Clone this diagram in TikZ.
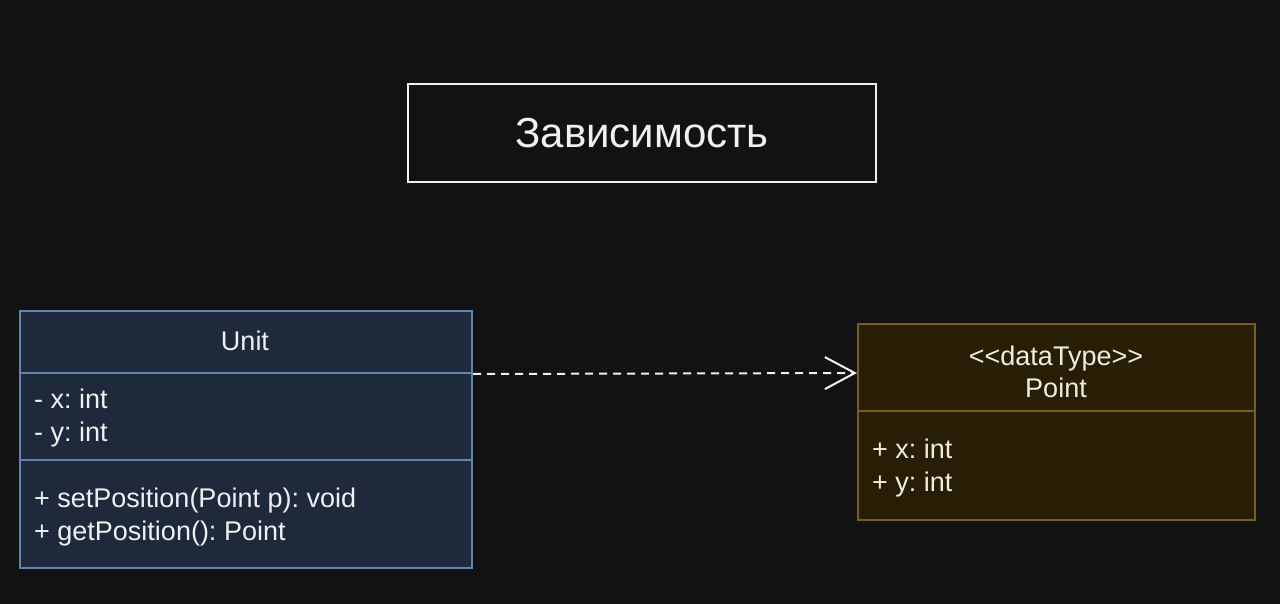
\documentclass[tikz,border=0pt]{standalone}
\usepackage{fontspec}
\setmainfont{Liberation Sans}
\usetikzlibrary{arrows.meta}
\frenchspacing
\definecolor{bg}{HTML}{121212}
\definecolor{unitfill}{HTML}{1E293B}
\definecolor{unitline}{HTML}{6483B2}
\definecolor{ptfill}{HTML}{281E05}
\definecolor{ptline}{HTML}{7A6012}
\definecolor{txt}{HTML}{F0F0F0}
\definecolor{pttxt}{HTML}{F0ECE0}
\tikzset{
  box/.style={draw, line width=2pt, anchor=north west, inner sep=0pt, minimum width=#1},
  body/.style={font=\fontsize{27}{33}\selectfont, inner sep=0pt, align=left},
  bodyc/.style={font=\fontsize{27}{32}\selectfont, inner sep=0pt, align=center},
  dep/.style={draw=txt, line width=2pt, dash pattern=on 8pt off 6pt,
    -{Straight Barb[length=30pt, width=32pt, line width=2pt]}},
}
\begin{document}
\begin{tikzpicture}[x=1pt,y=-1pt]
\useasboundingbox (0,0) rectangle (1280,604);
\fill[bg] (0,0) rectangle (1280,604);
% title
\node[box=468pt, minimum height=98pt, draw=txt, fill=bg] (title) at (407,83) {};
\node[font=\fontsize{42}{50}\selectfont, text=txt, inner sep=0pt] (titletext) at (title.center) {Зависимость};
% Unit class
\node[box=452pt, minimum height=62pt, draw=unitline, fill=unitfill] (uhead) at (19,310) {};
\node[box=452pt, minimum height=87pt, draw=unitline, fill=unitfill] (uattr) at (19,372) {};
\node[box=452pt, minimum height=108pt, draw=unitline, fill=unitfill] (umeth) at (19,459) {};
\node[bodyc, text=txt] (uname) at (245,341) {Unit};
\node[body, text=txt, anchor=west] (uattrtext) at (34,418) {- x: int\\- y: int};
\node[body, text=txt, anchor=west] (umethtext) at (34,517) {+ setPosition(Point p): void\\+ getPosition(): Point};
% Point class
\node[box=397pt, minimum height=87pt, draw=ptline, fill=ptfill] (phead) at (857,323) {};
\node[box=397pt, minimum height=109pt, draw=ptline, fill=ptfill] (pattr) at (857,410) {};
\node[bodyc, text=pttxt] (pname) at (1056,372) {<{}<dataType>{}>\\Point};
\node[body, text=pttxt, anchor=west] (pattrtext) at (872,468) {+ x: int\\+ y: int};
% dependency
\coordinate (depstart) at (uhead.south east |- 0,374);
\coordinate (depend) at (phead.west |- 0,373);
\draw[dep] (depstart) -- (depend);
\end{tikzpicture}
\end{document}
